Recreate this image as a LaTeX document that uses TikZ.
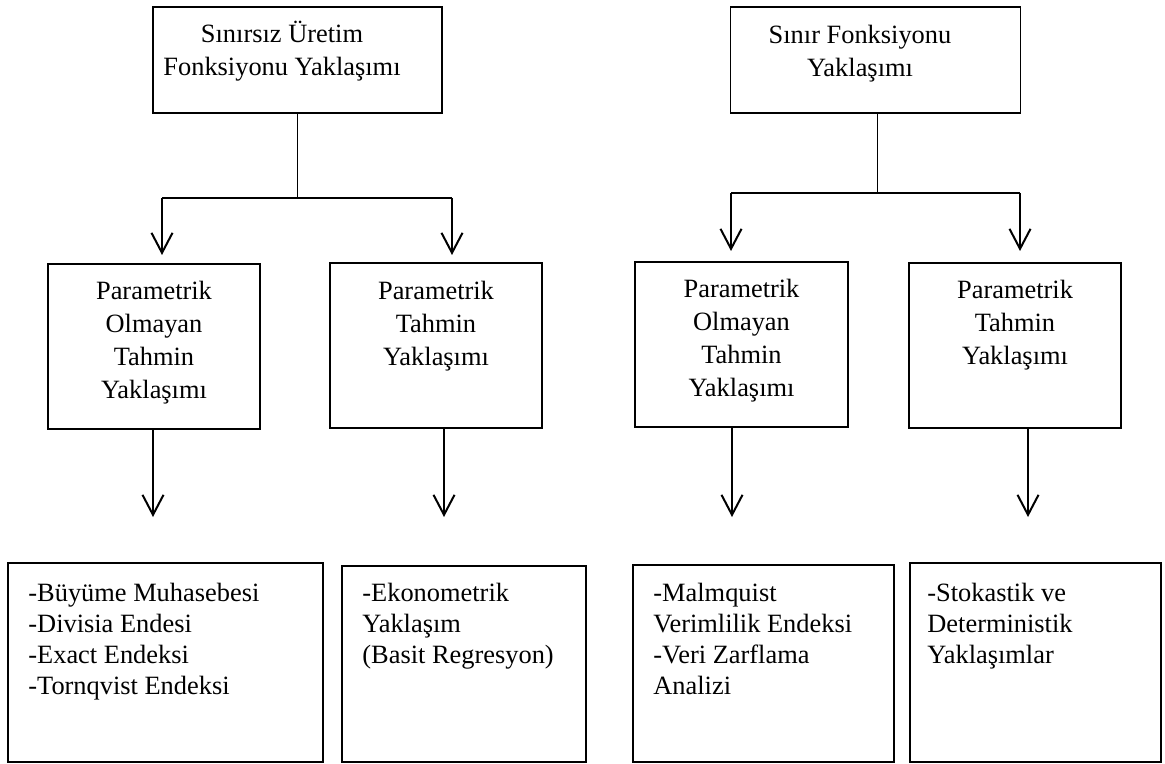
\documentclass[tikz,border=0pt]{standalone}
\usepackage{fontspec}
\setmainfont{Liberation Serif}
\usepackage{tikz}
\usetikzlibrary{arrows.meta, positioning, calc}

\begin{document}
\begin{tikzpicture}[x=0.5pt, y=-0.5pt,
  box/.style={draw, line width=0.6pt, minimum width=106pt, minimum height=82.5pt, inner sep=0pt},
  txt/.style={inner sep=0pt, align=center, anchor=north, font=\fontsize{13.2}{16.5}\selectfont},
  list/.style={inner sep=0pt, align=left, anchor=north west, font=\fontsize{13.2}{15.5}\selectfont},
  stem/.style={line width=0.6pt},
  arr/.style={line width=1pt, -{Straight Barb[length=10pt, width=10.5pt]}}]
  \useasboundingbox (0,0) rectangle (1165,764);

  % top level
  \node[box, minimum width=144.5pt, minimum height=53pt] (uretim) at (297.5,60) {};
  \node[txt] (uretimT) at (282,21) {Sınırsız Üretim\\Fonksiyonu Yaklaşımı};
  \node[box, minimum width=145pt, minimum height=53pt] (sinir) at (875.5,60) {};
  \node[txt] (sinirT) at (860,25) {Sınır Fonksiyonu\\Yaklaşımı};

  % second level
  \node[box] (npL) at (154,346.5) {};
  \node[txt] (npLT) at (154,281) {Parametrik\\Olmayan\\Tahmin\\Yaklaşımı};
  \node[box] (pL) at (436,345.5) {};
  \node[txt] (pLT) at (436,281) {Parametrik\\Tahmin\\Yaklaşımı};
  \node[box, minimum width=106.5pt] (npR) at (741.5,344.5) {};
  \node[txt] (npRT) at (741.5,279) {Parametrik\\Olmayan\\Tahmin\\Yaklaşımı};
  \node[box] (pR) at (1015,345.5) {};
  \node[txt] (pRT) at (1015,280) {Parametrik\\Tahmin\\Yaklaşımı};

  % third level
  \node[box, minimum width=157.5pt, minimum height=99.5pt] (bUc) at (165.5,662.5) {};
  \node[list] (bUcT) at (28,583) {-Büyüme Muhasebesi\\-Divisia Endesi\\-Exact Endeksi\\-Tornqvist Endeksi};
  \node[box, minimum width=122pt, minimum height=98pt] (eko) at (464,664) {};
  \node[list] (ekoT) at (362,583) {-Ekonometrik\\Yaklaşım\\(Basit Regresyon)};
  \node[box, minimum width=130.5pt, minimum height=98.5pt] (malm) at (763.5,663.5) {};
  \node[list] (malmT) at (653,583) {-Malmquist\\Verimlilik Endeksi\\-Veri Zarflama\\Analizi};
  \node[box, minimum width=125.5pt, minimum height=99.5pt] (stok) at (1035.5,662.5) {};
  \node[list] (stokT) at (927,583) {-Stokastik ve\\Deterministik\\Yaklaşımlar};

  % junctions and arrow tips
  \coordinate (jU) at (297.5,198);
  \coordinate (aU1) at (162,255);
  \coordinate (aU2) at (452,255);
  \coordinate (jS) at (877.5,193);
  \coordinate (aS1) at (731,251);
  \coordinate (aS2) at (1020,251);
  \coordinate (d1) at (153,517);
  \coordinate (d2) at (444,517);
  \coordinate (d3) at (732,517);
  \coordinate (d4) at (1028,517);

  \draw[stem] (uretim.south) -- (jU);
  \draw[stem] (aU1 |- jU) -- (aU2 |- jU);
  \draw[arr] (aU1 |- jU) -- (aU1);
  \draw[arr] (aU2 |- jU) -- (aU2);
  \draw[stem] (sinir.south -| jS) -- (jS);
  \draw[stem] (aS1 |- jS) -- (aS2 |- jS);
  \draw[arr] (aS1 |- jS) -- (aS1);
  \draw[arr] (aS2 |- jS) -- (aS2);

  \draw[arr] (d1 |- npL.south) -- (d1);
  \draw[arr] (d2 |- pL.south) -- (d2);
  \draw[arr] (d3 |- npR.south) -- (d3);
  \draw[arr] (d4 |- pR.south) -- (d4);
\end{tikzpicture}
\end{document}
